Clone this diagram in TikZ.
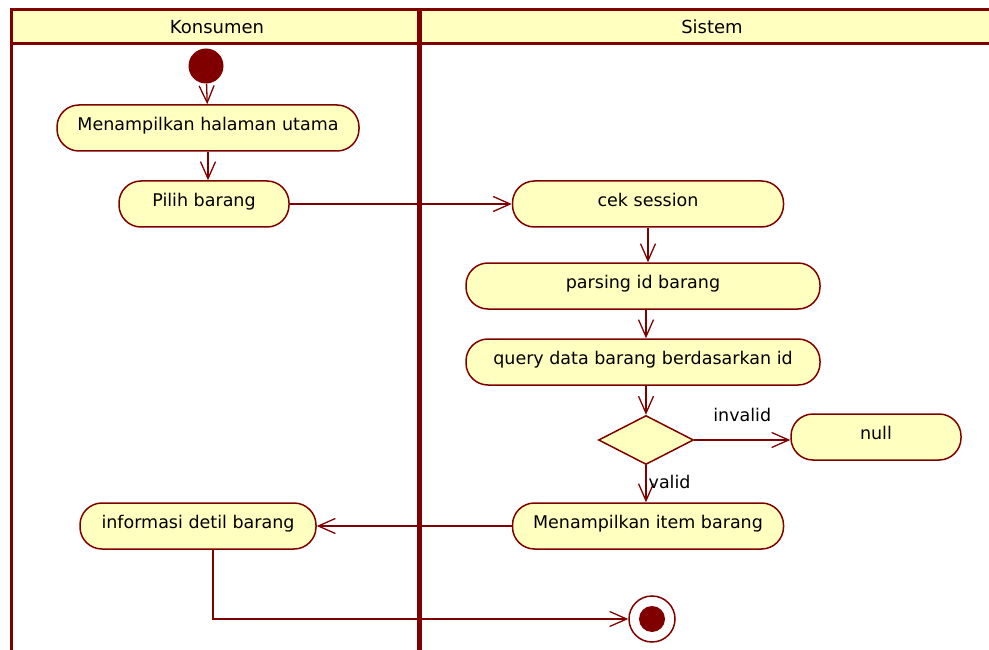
\documentclass[tikz,border=0pt]{standalone}
\usepackage{fontspec}
\setmainfont{DejaVu Sans}
\usetikzlibrary{shapes.geometric, arrows.meta, positioning}
\definecolor{umlred}{HTML}{800000}
\definecolor{umlfill}{HTML}{FFFFC0}
\tikzset{activity/.style={draw=umlred, fill=umlfill, line width=1.5pt, rectangle,
		rounded corners=22pt, minimum height=46pt, inner sep=0pt, text height=10pt, text depth=5pt,
		font=\fontsize{17.5}{20}\selectfont},
	decision/.style={draw=umlred, fill=umlfill, line width=1.5pt, diamond,
		minimum width=95pt, minimum height=49pt, inner sep=0pt},
	startstate/.style={circle, fill=umlred, minimum size=35pt, inner sep=0pt},
	endstate/.style={circle, draw=umlred, fill=white, line width=1.5pt, minimum size=46pt, inner sep=0pt,
		path picture={\fill[umlred] (path picture bounding box.center) circle (13pt);}},
	flow/.style={draw=umlred, line width=1.3pt, -{Straight Barb[length=17pt,width=15pt]}},
	lanetitle/.style={font=\fontsize{18}{21}\selectfont},
	guard/.style={font=\fontsize{17.5}{20}\selectfont, inner sep=2pt}}

\begin{document}
\begin{tikzpicture}[x=1pt, y=-1pt]
		\useasboundingbox (0,0) rectangle (989,650);
		% lanes
		\fill[umlfill] (11,10) rectangle (989,44);
		\draw[umlred, line width=3pt] (989,10) -- (11,10) -- (11,650);
		\draw[umlred, line width=3pt] (11,44) -- (989,44);
		\draw[umlred, line width=5pt] (419,10) -- (419,650);
		\node[lanetitle] (konsumen) at (217,27) {Konsumen};
		\node[lanetitle] (sistem) at (712,27) {Sistem};
		
		\node[startstate] (mulai) at (206,66) {};
		\node[activity, minimum width=302pt] (home) at (208,128) {Menampilkan halaman utama};
		\node[activity, minimum width=170pt] (pilih) at (204,204) {Pilih barang};
		\node[activity, minimum width=271pt] (cek) at (648,204) {cek session};
		\node[activity, minimum width=354pt] (parsing) at (643,286) {parsing id barang};
		\node[activity, minimum width=354pt] (query) at (643,362) {query data barang berdasarkan id};
		\node[decision] (cabang) at (646,440) {};
		\node[activity, minimum width=170pt] (null) at (876,437) {null};
		\node[activity, minimum width=271pt] (tampil) at (648,526) {Menampilkan item barang};
		\node[activity, minimum width=236pt] (info) at (198,526) {informasi detil barang};
		\node[endstate] (selesai) at (652,619) {};
		
		\draw[flow] (mulai) -- (home);
		\draw[flow] (home) -- (home.south |- pilih.north);
		\draw[flow] (pilih) -- (cek);
		\draw[flow] (cek) -- (cek.south |- parsing.north);
		\draw[flow] (cabang.north |- parsing.south) -- (cabang.north |- query.north);
		\draw[flow] (cabang.north |- query.south) -- (cabang);
		\draw[flow] (cabang.east) -- node[guard, above=16pt] {invalid} (cabang.east -| null.west);
		\draw[flow] (cabang) -- node[guard, right, pos=0.45] {valid} (cabang.south |- tampil.north);
		\draw[flow] (tampil) -- (info);
		\draw[flow] ([xshift=15pt]info.south) |- (selesai);
	\end{tikzpicture}
\end{document}
